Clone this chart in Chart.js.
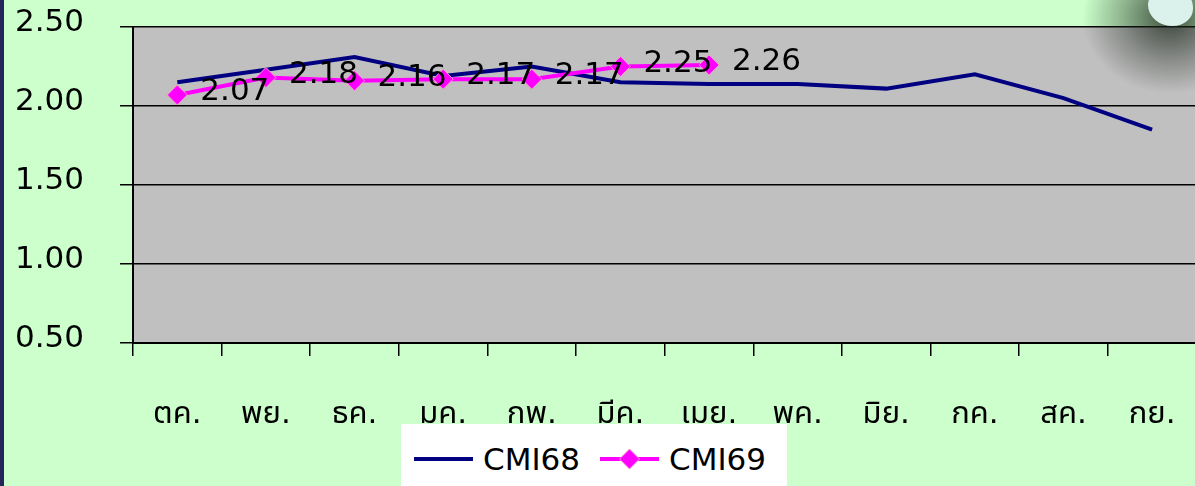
<!DOCTYPE html>
<html>
<head>
<meta charset="utf-8">
<script src="https://cdn.jsdelivr.net/npm/chart.js@4.4.1/dist/chart.umd.min.js"></script>
<style>
  body { margin: 0; width: 1195px; height: 486px; overflow: hidden; position: relative; background: #ccffcc;
         font-family: "DejaVu Sans", "Noto Sans Thai", sans-serif; }
  #wrap { position: absolute; left: 0; top: 0; width: 1216px; height: 486px; }
  #stripe { position: absolute; left: 0; top: 0; width: 4px; height: 486px; background: #25255a; }
  #shade { position: absolute; left: 1075px; top: -50px; width: 190px; height: 150px;
           background: radial-gradient(ellipse at 50% 45%, rgba(25,35,25,0.8), rgba(25,35,25,0.35) 35%, rgba(25,35,25,0) 65%); }
  #blob { position: absolute; left: 1148px; top: -12px; width: 45px; height: 38px; background: #dbf2ec;
          border-radius: 45% 50% 45% 55%; }
  #legend { position: absolute; left: 401px; top: 424px; width: 386px; height: 70px; background: #fff;
            display: flex; align-items: center; font-size: 31px; color: #000; }
  #legend .item { display: flex; align-items: center; }
  #legend svg { margin-right: 10px; }
</style>
</head>
<body>
<div id="wrap"><canvas id="chart"></canvas></div>
<div id="stripe"></div>
<div id="shade"></div>
<div id="blob"></div>
<div id="legend">
  <div class="item" style="margin-left:13px">
    <svg width="59" height="20"><line x1="0" y1="10" x2="59" y2="10" stroke="#000080" stroke-width="4"/></svg>
    <span>CMI68</span>
  </div>
  <div class="item" style="margin-left:20px">
    <svg width="59" height="22"><line x1="0" y1="11" x2="59" y2="11" stroke="#ff00ff" stroke-width="4"/>
      <polygon points="29.5,1 39.5,11 29.5,21 19.5,11" fill="#ff00ff" stroke="#ff99cc" stroke-width="1"/></svg>
    <span>CMI69</span>
  </div>
</div>
<script>
const months = ['ตค.', 'พย.', 'ธค.', 'มค.', 'กพ.', 'มีค.', 'เมย.', 'พค.', 'มิย.', 'กค.', 'สค.', 'กย.'];
const cmi68 = [2.15, 2.23, 2.31, 2.19, 2.25, 2.15, 2.14, 2.14, 2.11, 2.20, 2.05, 1.85];
const cmi69 = [2.07, 2.18, 2.16, 2.17, 2.17, 2.25, 2.26, null, null, null, null, null];
const yTicks = [0.5, 1.0, 1.5, 2.0, 2.5];

const FONT = '"DejaVu Sans", "Noto Sans Thai", sans-serif';

// fond gris de la zone de tracé
const plotBg = {
  id: 'plotBg',
  beforeDraw(chart) {
    const a = chart.chartArea, ctx = chart.ctx;
    ctx.save();
    ctx.fillStyle = '#c0c0c0';
    ctx.fillRect(a.left, a.top, a.right - a.left, a.bottom - a.top);
    ctx.restore();
  }
};

// étiquettes de valeurs à droite des losanges
const valueLabels = {
  id: 'valueLabels',
  afterDatasetsDraw(chart) {
    const ctx = chart.ctx;
    const meta = chart.getDatasetMeta(1);
    ctx.save();
    ctx.font = '31px ' + FONT;
    ctx.fillStyle = '#000';
    ctx.textAlign = 'left';
    ctx.textBaseline = 'middle';
    meta.data.forEach((pt, i) => {
      if (cmi69[i] == null) return;
      ctx.fillText(cmi69[i].toFixed(2), pt.x + 23, pt.y - 3);
    });
    ctx.restore();
  }
};

new Chart(document.getElementById('chart'), {
  type: 'line',
  data: {
    labels: months,
    datasets: [
      { label: 'CMI68', data: cmi68, borderColor: '#000080', borderWidth: 4, pointRadius: 0, order: 1 },
      { label: 'CMI69', data: cmi69, borderColor: '#ff00ff', borderWidth: 4, pointStyle: 'rectRot', pointRadius: 10,
        pointBackgroundColor: '#ff00ff', pointBorderColor: '#ff99cc', pointBorderWidth: 1, order: 0 }
    ]
  },
  options: {
    responsive: true,
    maintainAspectRatio: false,
    animation: false,
    layout: { padding: { top: 27, right: 4, left: 15, bottom: 0 } },
    plugins: { legend: { display: false }, tooltip: { enabled: false } },
    scales: {
      x: {
        offset: true,
        afterFit: s => { s.height = 143; },
        grid: { offset: true, drawOnChartArea: false, color: '#000', tickLength: 13, lineWidth: 1.5 },
        border: { color: '#000', width: 2 },
        ticks: { color: '#000', font: { size: 31, family: FONT }, padding: 40, maxRotation: 0, autoSkip: false }
      },
      y: {
        min: 0.5, max: 2.5,
        afterFit: s => { s.width = 118; },
        afterBuildTicks: s => { s.ticks = yTicks.map(v => ({ value: v })); },
        grid: { color: '#000', tickLength: 13, lineWidth: 1.5 },
        border: { color: '#000', width: 2 },
        // étiquettes calées à gauche pour garder le haut du graphique à sa place
        ticks: { color: '#000', font: { size: 31, family: FONT }, padding: 0, crossAlign: 'far', labelOffset: -4,
                 callback: v => v.toFixed(2) }
      }
    }
  },
  plugins: [plotBg, valueLabels]
});
</script>
</body>
</html>
